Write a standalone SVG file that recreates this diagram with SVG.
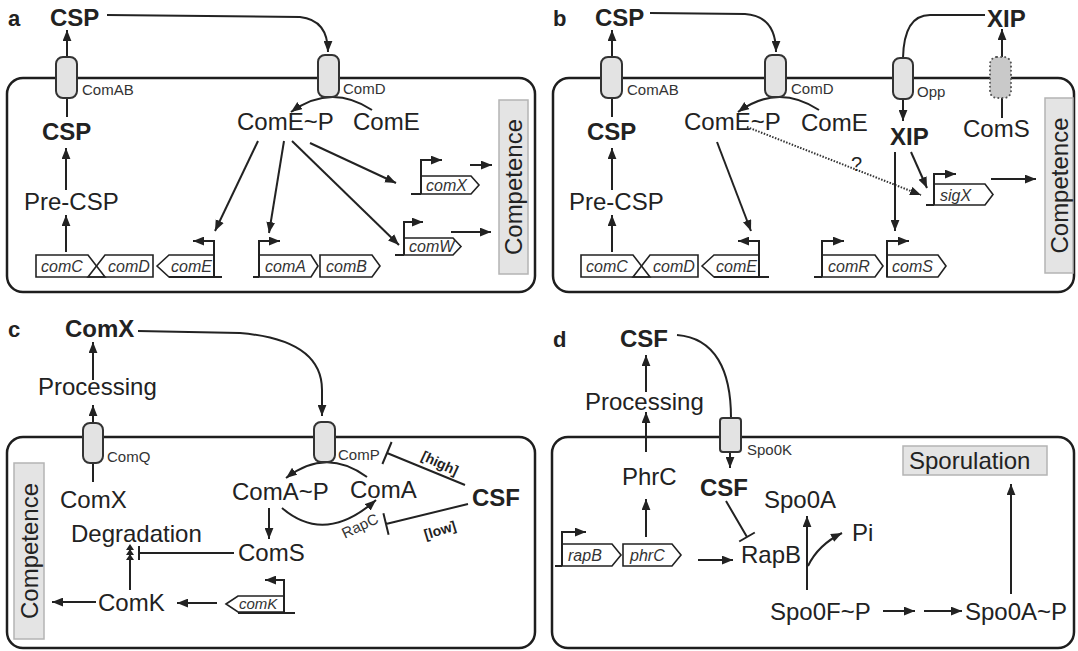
<svg xmlns="http://www.w3.org/2000/svg" width="1078" height="651" viewBox="0 0 1078 651">
<defs>
  <marker id="ah" viewBox="0 0 10 8" refX="10" refY="4" markerWidth="11" markerHeight="9" markerUnits="userSpaceOnUse" orient="auto">
    <path d="M0,0 L10,4 L0,8 z" fill="#222"/>
  </marker>
</defs>
<style>
  text { font-family: "Liberation Sans", Arial, Helvetica, sans-serif; fill: #222; }
  .lbl { font-size: 24px; }
  .bold { font-size: 24px; font-weight: bold; }
  .panel { font-size: 22px; font-weight: bold; }
  .small { font-size: 15px; fill: #333; }
  .gt { font-size: 16px; font-style: italic; fill: #333; }
  .gts { font-size: 15px; font-style: italic; fill: #333; }
  .cell { fill: none; stroke: #1e1e1e; stroke-width: 2.5; }
  .tp { fill: #e3e3e3; stroke: #333; stroke-width: 2; }
  .tpd { fill: #c9c9c9; stroke: #555; stroke-width: 2; stroke-dasharray: 0.1 4; stroke-linecap: round; }
  .gene { fill: none; stroke: #222; stroke-width: 1.6; stroke-linejoin: miter; }
  .box { fill: #e4e4e4; stroke: #b4b4b4; stroke-width: 1.5; }
  .ln { fill: none; stroke: #222; stroke-width: 2; }
  .arr { fill: none; stroke: #222; stroke-width: 2; marker-end: url(#ah); }
  .dot { fill: none; stroke: #333; stroke-width: 2; stroke-dasharray: 1.5 1.5; marker-end: url(#ah); }
  .tiny { font-size: 14px; font-weight: bold; }
</style>

<!-- cell outlines -->
<g id="cells">
  <rect class="cell" x="7" y="78" width="528" height="214" rx="16"/>
  <rect class="cell" x="553" y="78" width="521" height="214" rx="16"/>
  <rect class="cell" x="7" y="437" width="528" height="211" rx="16"/>
  <rect class="cell" x="552" y="437" width="522" height="211" rx="16"/>
</g>

<!-- panel labels -->
<g id="panel-labels">
  <text class="panel" x="8" y="26">a</text>
  <text class="panel" x="553" y="26">b</text>
  <text class="panel" x="8" y="337">c</text>
  <text class="panel" x="553" y="347">d</text>
</g>

<!-- connectors -->
<g id="connectors">
  <!-- a -->
  <path class="arr" d="M107,15 L300,17 Q328,20 328,52"/>
  <path class="arr" d="M67,57 L67,30"/>
  <path class="ln" d="M67,98 L67,117"/>
  <path class="arr" d="M66,190 L66,148"/>
  <path class="arr" d="M66,252 L66,215"/>
  <path class="arr" d="M372,110 Q331,83 291,112"/>
  <path class="arr" d="M258,141 L215,231"/>
  <path class="arr" d="M284,141 L269,233"/>
  <path class="arr" d="M292,141 L399,245"/>
  <path class="arr" d="M310,143 L396,183"/>
  <path class="arr" d="M470,165 L492,165"/>
  <path class="arr" d="M451,232 L491,232"/>
  <!-- b -->
  <path class="arr" d="M650,13 L745,14 Q776,16 776,52"/>
  <path class="arr" d="M612,57 L612,30"/>
  <path class="ln" d="M612,98 L612,117"/>
  <path class="arr" d="M612,190 L612,148"/>
  <path class="arr" d="M612,252 L612,215"/>
  <path class="arr" d="M819,110 Q778,83 738,112"/>
  <path class="arr" d="M717,142 L751,231"/>
  <path class="dot" d="M747,127 L921,195"/>
  <path class="ln" d="M985,15 L930,15 Q904,15 903,58"/>
  <path class="arr" d="M903,99 L903,121"/>
  <path class="arr" d="M895,152 L895,231"/>
  <path class="arr" d="M911,152 L927,188"/>
  <path class="arr" d="M991,179 L1036,179"/>
  <path class="arr" d="M1002,118 L1002,29"/>
  <!-- c -->
  <path class="arr" d="M138,331 L240,333 Q322,340 322,390 L322,416"/>
  <path class="arr" d="M93,380 L93,342"/>
  <path class="arr" d="M93,423 L93,405"/>
  <path class="ln" d="M93,463 L93,482"/>
  <path class="arr" d="M367,477 Q326,447 286,478"/>
  <path class="arr" d="M282,508 Q325,545 376,500"/>
  <path class="arr" d="M269,508 L269,539"/>
  <path class="ln" d="M465,485 L387,453 M391.6,442 L382.4,464"/>
  <path class="ln" d="M468,504 L386,524 M383.4,513.3 L388.6,534.7"/>
  <path class="ln" d="M234,553 L139,553 M139,546 L139,560"/>
  <path class="ln" d="M130,590 L130,548"/>
  <path d="M130,544 L134,550 L126,550 z M130,549 L134,555 L126,555 z M130,554 L134,560 L126,560 z" fill="#222"/>
  <path class="arr" d="M96,602 L52,602"/>
  <path class="arr" d="M217,603 L177,603"/>
  <!-- d -->
  <path class="ln" d="M677,335 C715,338 731,370 731,418"/>
  <path class="arr" d="M730,452 L730,468"/>
  <path class="arr" d="M646,392 L646,355"/>
  <path class="arr" d="M646,452 L646,412"/>
  <path class="arr" d="M646,537 L646,499"/>
  <path class="arr" d="M698,560 L733,560"/>
  <path class="ln" d="M726,501 L747,537 M739.2,541.5 L754.8,532.5"/>
  <path class="arr" d="M807,590 L807,516"/>
  <path class="arr" d="M808,566 Q818,545 842,533"/>
  <path class="arr" d="M883,611 L915,611"/>
  <path class="arr" d="M924,611 L962,611"/>
  <path class="arr" d="M1011,594 L1011,484"/>
  <!-- promoters -->
  <path class="ln" d="M169,277 H222"/>
  <path class="arr" d="M214,277 V241 H193"/>
  <path class="ln" d="M253,277 H259"/>
  <path class="arr" d="M259,277 V241 H280"/>
  <path class="ln" d="M411,194 H421"/>
  <path class="arr" d="M421,194 V160 H442"/>
  <path class="ln" d="M395,255 H404"/>
  <path class="arr" d="M404,255 V222 H423"/>
  <path class="ln" d="M714,277 H769"/>
  <path class="arr" d="M759,277 V241 H738"/>
  <path class="ln" d="M814,277 H822"/>
  <path class="arr" d="M822,277 V241 H844"/>
  <path class="arr" d="M887,277 V241 H909"/>
  <path class="ln" d="M926,205 H934"/>
  <path class="arr" d="M934,205 V174 H956"/>
  <path class="ln" d="M238,613 H295"/>
  <path class="arr" d="M284,613 V580 H265"/>
  <path class="ln" d="M555,566 H562"/>
  <path class="arr" d="M562,566 V532 H586"/>
</g>

<!-- panel a -->
<g id="a-csp-out"><text class="bold" x="50" y="26">CSP</text></g>
<g id="a-comab"><rect class="tp" x="56" y="57" width="21" height="41" rx="7"/><text class="small" x="82" y="95">ComAB</text></g>
<g id="a-comd"><rect class="tp" x="318" y="55" width="21" height="42" rx="7"/><text class="small" x="343" y="94">ComD</text></g>
<g id="a-csp-in"><text class="bold" x="42" y="140">CSP</text></g>
<g id="a-precsp"><text class="lbl" x="24" y="210">Pre-CSP</text></g>
<g id="a-comep"><text class="lbl" x="237" y="130">ComE~P</text></g>
<g id="a-come"><text class="lbl" x="353" y="130">ComE</text></g>
<g id="a-competence"><rect class="box" x="499" y="100" width="29" height="174"/><text class="lbl" x="513.5" y="195.5" text-anchor="middle" transform="rotate(-90 513.5 187)">Competence</text></g>
<g id="a-genes">
  <path class="gene" d="M36,255 H88 L105,277 H36 Z"/>
  <path class="gene" d="M105,255 H153 V277 H88 Z"/>
  <path class="gene" d="M157,266 L169,255 H214 V277 H169 Z"/>
  <path class="gene" d="M259,255 H311 L318,266 L311,277 H259 Z"/>
  <path class="gene" d="M320,255 H372 L380,266 L372,277 H320 Z"/>
  <path class="gene" d="M421,176 H471 L479,185 L471,194 H421 Z"/>
  <path class="gene" d="M404,238 H453 L461,246.5 L453,255 H404 Z"/>
  <text class="gt" x="41" y="272">comC</text>
  <text class="gt" x="108" y="272">comD</text>
  <text class="gt" x="171" y="272">comE</text>
  <text class="gt" x="265" y="272">comA</text>
  <text class="gt" x="326" y="272">comB</text>
  <text class="gt" x="426" y="191">comX</text>
  <text class="gt" x="409" y="252">comW</text>
</g>

<!-- panel b -->
<g id="b-csp-out"><text class="bold" x="595" y="26">CSP</text></g>
<g id="b-comab"><rect class="tp" x="601" y="57" width="21" height="41" rx="7"/><text class="small" x="627" y="95">ComAB</text></g>
<g id="b-comd"><rect class="tp" x="765" y="55" width="21" height="42" rx="7"/><text class="small" x="791" y="94">ComD</text></g>
<g id="b-opp"><rect class="tp" x="893" y="58" width="20" height="41" rx="7"/><text class="small" x="917" y="97">Opp</text></g>
<g id="b-xip-out"><text class="bold" x="987" y="27">XIP</text></g>
<g id="b-csp-in"><text class="bold" x="587" y="140">CSP</text></g>
<g id="b-precsp"><text class="lbl" x="569" y="210">Pre-CSP</text></g>
<g id="b-comep"><text class="lbl" x="684" y="130">ComE~P</text></g>
<g id="b-come"><text class="lbl" x="801" y="131">ComE</text></g>
<g id="b-xip-in"><text class="bold" x="890" y="145">XIP</text></g>
<g id="b-coms"><text class="lbl" x="963" y="137">ComS</text></g>
<g id="b-coms-exporter"><rect class="tpd" x="990" y="57" width="21" height="41" rx="7"/></g>
<g id="b-query"><text class="lbl" x="851" y="171" style="font-size:20px">?</text></g>
<g id="b-competence"><rect class="box" x="1045" y="98" width="28" height="175"/><text class="lbl" x="1059" y="194" text-anchor="middle" transform="rotate(-90 1059 185.5)">Competence</text></g>
<g id="b-genes">
  <path class="gene" d="M581,255 H633 L650,277 H581 Z"/>
  <path class="gene" d="M650,255 H698 V277 H633 Z"/>
  <path class="gene" d="M702,266 L714,255 H759 V277 H714 Z"/>
  <path class="gene" d="M822,255 H875 L883,266 L875,277 H822 Z"/>
  <path class="gene" d="M887,255 H938 L946,266 L938,277 H887 Z"/>
  <path class="gene" d="M934,184 H985 L993,194.5 L985,205 H934 Z"/>
  <text class="gt" x="586" y="272">comC</text>
  <text class="gt" x="653" y="272">comD</text>
  <text class="gt" x="716" y="272">comE</text>
  <text class="gt" x="828" y="272">comR</text>
  <text class="gt" x="892" y="272">comS</text>
  <text class="gt" x="940" y="201">sigX</text>
</g>

<!-- panel c -->
<g id="c-comx-out"><text class="bold" x="65" y="337">ComX</text></g>
<g id="c-processing"><text class="lbl" x="38" y="395">Processing</text></g>
<g id="c-comq"><rect class="tp" x="83" y="423" width="20" height="40" rx="7"/><text class="small" x="107" y="462">ComQ</text></g>
<g id="c-comp"><rect class="tp" x="314" y="422" width="21" height="40" rx="7"/><text class="small" x="338" y="460">ComP</text></g>
<g id="c-comx-in"><text class="lbl" x="60" y="508">ComX</text></g>
<g id="c-comap"><text class="lbl" x="232" y="500">ComA~P</text></g>
<g id="c-coma"><text class="lbl" x="350" y="498">ComA</text></g>
<g id="c-csf"><text class="bold" x="472" y="506">CSF</text></g>
<g id="c-degradation"><text class="lbl" x="71" y="542">Degradation</text></g>
<g id="c-coms"><text class="lbl" x="238" y="561">ComS</text></g>
<g id="c-comk"><text class="lbl" x="98" y="611">ComK</text></g>
<g id="c-rapc"><text class="small" x="360" y="531" text-anchor="middle" transform="rotate(-25 360 526)">RapC</text></g>
<g id="c-high"><text class="tiny" x="440" y="468" text-anchor="middle" transform="rotate(25 440 463)">[high]</text></g>
<g id="c-low"><text class="tiny" x="440" y="535" text-anchor="middle" transform="rotate(-17 440 530)">[low]</text></g>
<g id="c-competence"><rect class="box" x="14" y="463" width="30" height="176"/><text class="lbl" x="29" y="559.5" text-anchor="middle" transform="rotate(-90 29 551)">Competence</text></g>
<g id="c-genes">
  <path class="gene" d="M226,604 L238,596 H284 V612 H238 Z"/>
  <text class="gts" x="239" y="609">comK</text>
</g>

<!-- panel d -->
<g id="d-csf-out"><text class="bold" x="620" y="347">CSF</text></g>
<g id="d-processing"><text class="lbl" x="585" y="410">Processing</text></g>
<g id="d-spo0k"><rect class="tp" x="720" y="418" width="21" height="34" rx="3"/><text class="small" x="747" y="455">Spo0K</text></g>
<g id="d-phrc"><text class="lbl" x="622" y="485">PhrC</text></g>
<g id="d-csf-in"><text class="bold" x="700" y="496">CSF</text></g>
<g id="d-spo0a"><text class="lbl" x="764" y="508">Spo0A</text></g>
<g id="d-pi"><text class="lbl" x="852" y="541">Pi</text></g>
<g id="d-rapb"><text class="lbl" x="741" y="563">RapB</text></g>
<g id="d-spo0fp"><text class="lbl" x="770" y="620">Spo0F~P</text></g>
<g id="d-spo0ap"><text class="lbl" x="965" y="620">Spo0A~P</text></g>
<g id="d-sporulation"><rect class="box" x="903" y="446" width="144" height="29"/><text class="lbl" x="909" y="469">Sporulation</text></g>
<g id="d-genes">
  <path class="gene" d="M562,544 H612 L621,555 L612,566 H562 Z"/>
  <path class="gene" d="M623,544 H672 L681,555 L672,566 H623 Z"/>
  <text class="gt" x="568" y="561">rapB</text>
  <text class="gt" x="630" y="561">phrC</text>
</g>
</svg>
